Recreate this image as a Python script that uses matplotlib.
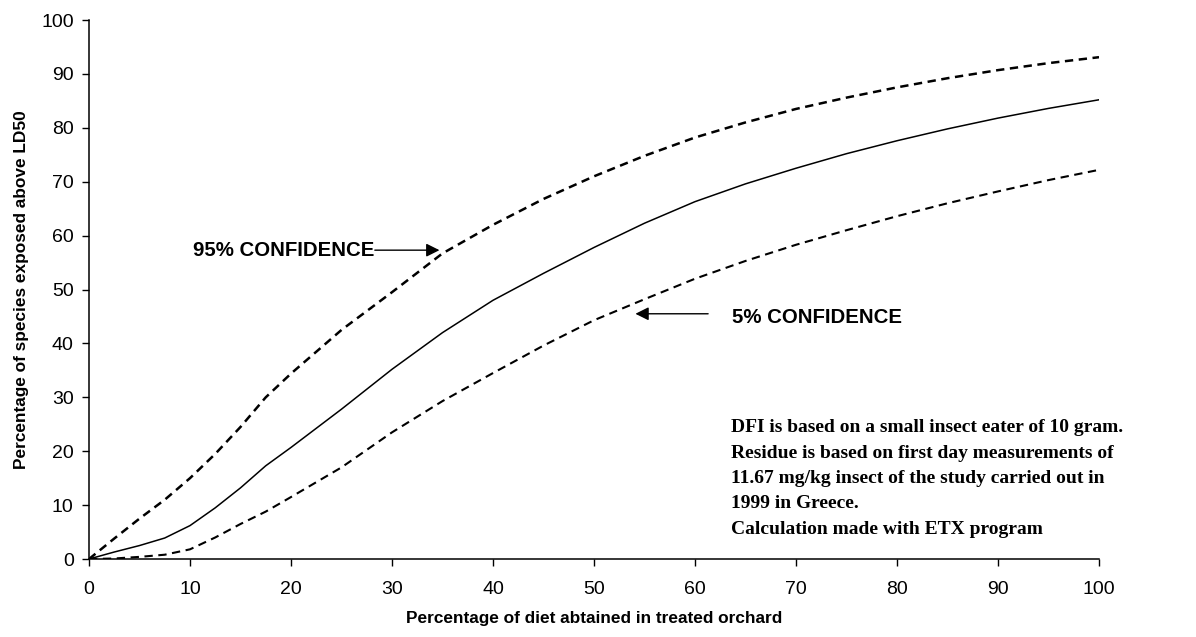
import matplotlib
matplotlib.use("Agg")
import matplotlib.pyplot as plt

x_vals = [0, 2.5, 5, 7.5, 10, 12.5, 15, 17.5, 20, 25, 30, 35, 40, 45, 50, 55, 60, 65, 70, 75, 80, 85, 90, 95, 100]
median = [0, 1.3, 2.5, 3.9, 6.2, 9.5, 13.2, 17.3, 20.7, 27.8, 35.2, 42.0, 48.0, 53.0, 57.8, 62.3, 66.3, 69.6, 72.5, 75.2, 77.6, 79.8, 81.8, 83.6, 85.2]
upper95 = [0, 3.8, 7.5, 11.0, 15.0, 19.5, 24.5, 30.0, 34.4, 42.5, 49.5, 56.7, 62.0, 66.8, 71.0, 74.8, 78.2, 81.0, 83.5, 85.6, 87.5, 89.2, 90.7, 92.0, 93.1]
lower5 = [0, 0.1, 0.4, 0.8, 1.8, 4.0, 6.5, 8.8, 11.5, 17.0, 23.5, 29.3, 34.5, 39.6, 44.3, 48.2, 52.0, 55.3, 58.3, 61.0, 63.6, 66.0, 68.2, 70.3, 72.2]

x_ticks = [0, 10, 20, 30, 40, 50, 60, 70, 80, 90, 100]
y_ticks = [0, 10, 20, 30, 40, 50, 60, 70, 80, 90, 100]

note_lines = [
    "DFI is based on a small insect eater of 10 gram.",
    "Residue is based on first day measurements of",
    "11.67 mg/kg insect of the study carried out in",
    "1999 in Greece.",
    "Calculation made with ETX program",
]

plt.rcParams['font.family'] = ['Liberation Sans', 'DejaVu Sans']
plt.rcParams['lines.scale_dashes'] = False

fig = plt.figure(figsize=(11.96, 6.37), dpi=100)
ax = fig.add_axes([0.0744, 0.1224, 0.8445, 0.8462])

ax.plot(x_vals, median, color='black', lw=1.1, solid_joinstyle='round')
ax.plot(x_vals, upper95, color='black', lw=1.8, dashes=(6, 4))
ax.plot(x_vals, lower5, color='black', lw=1.5, dashes=(6, 4))

ax.set_xlim(0, 100)
ax.set_ylim(0, 100)
ax.set_xticks(x_ticks)
ax.set_yticks(y_ticks)
ax.tick_params(axis='both', labelsize=14, direction='out', length=5, width=1, color='black')
ax.tick_params(axis='x', pad=11)
ax.tick_params(axis='y', pad=6)
for s in ['top', 'right']:
    ax.spines[s].set_visible(False)
for s in ['left', 'bottom']:
    ax.spines[s].set_linewidth(1.1)

ax.set_xlabel("Percentage of diet abtained in treated orchard", fontsize=12.4, fontweight='bold', labelpad=9)
ax.set_ylabel("Percentage of species exposed above LD50", fontsize=12.4, fontweight='bold', labelpad=9)

ax.text(10.3, 57.3, "95% CONFIDENCE", fontsize=14.7, fontweight='bold', ha='left', va='center')
ax.annotate("", xy=(34.7, 57.3), xytext=(28.3, 57.3),
            arrowprops=dict(arrowstyle='-|>', color='black', lw=1.0, mutation_scale=20, shrinkA=0, shrinkB=0))
ax.text(63.7, 44.8, "5% CONFIDENCE", fontsize=14.7, fontweight='bold', ha='left', va='center')
ax.annotate("", xy=(54.1, 45.5), xytext=(61.3, 45.5),
            arrowprops=dict(arrowstyle='-|>', color='black', lw=1.0, mutation_scale=20, shrinkA=0, shrinkB=0))

for i, line in enumerate(note_lines):
    ax.text(63.6, 24.4 - i * 4.73, line, fontsize=14, fontweight='bold', family=['Liberation Serif'],
            ha='left', va='center')

fig.savefig("out.png", dpi=100)
